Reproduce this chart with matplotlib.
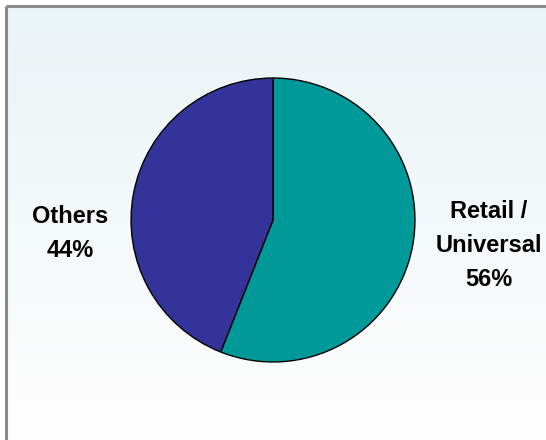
import matplotlib.pyplot as plt
import numpy as np
from matplotlib.colors import LinearSegmentedColormap
from matplotlib.patches import Rectangle

labels = ["Retail /\nUniversal\n56%", "Others\n44%"]
shares = [56, 44]
colors = ["#009999", "#333399"]


def main() -> None:
    fig = plt.figure(figsize=(5.46, 4.40), dpi=100)
    fig.patch.set_facecolor("white")

    # background panel with a soft vertical gradient and grey frame
    bg = fig.add_axes([0, 0, 1, 1])
    bg.set_xlim(0, 546)
    bg.set_ylim(440, 0)
    bg.axis("off")
    cmap = LinearSegmentedColormap.from_list("bg", ["#E9F4F6", "#FDFDFD"])
    grad = np.linspace(0, 1, 256).reshape(-1, 1)
    bg.imshow(grad, cmap=cmap, extent=(7, 546, 400, 7), aspect="auto", zorder=0)
    bg.add_patch(Rectangle((7, 400), 539, 40, facecolor="#FDFDFD", edgecolor="none", zorder=0))
    bg.add_patch(Rectangle((6, 6), 560, 460, facecolor="none", edgecolor="#8A8A8A", linewidth=2.2, zorder=1))
    bg.set_xlim(0, 546)
    bg.set_ylim(440, 0)

    ax = fig.add_axes([0, 0, 1, 1])
    ax.set_facecolor("none")
    ax.pie(
        shares,
        colors=colors,
        startangle=90,
        counterclock=False,
        radius=1.0,
        wedgeprops={"edgecolor": "black", "linewidth": 1.0},
    )
    ax.set_xlim(-1.923, 1.923)
    ax.set_ylim(-1.549, 1.549)
    ax.set_aspect("equal")
    ax.axis("off")

    font = {"fontsize": 17, "fontweight": "bold", "family": "Liberation Sans", "linespacing": 1.62}
    ax.text(1.521, -0.18, labels[0], ha="center", va="center", **font)
    ax.text(-1.426, -0.095, labels[1], ha="center", va="center", **font)

    fig.savefig("out.png", dpi=100)
    plt.close(fig)


if __name__ == "__main__":
    main()
